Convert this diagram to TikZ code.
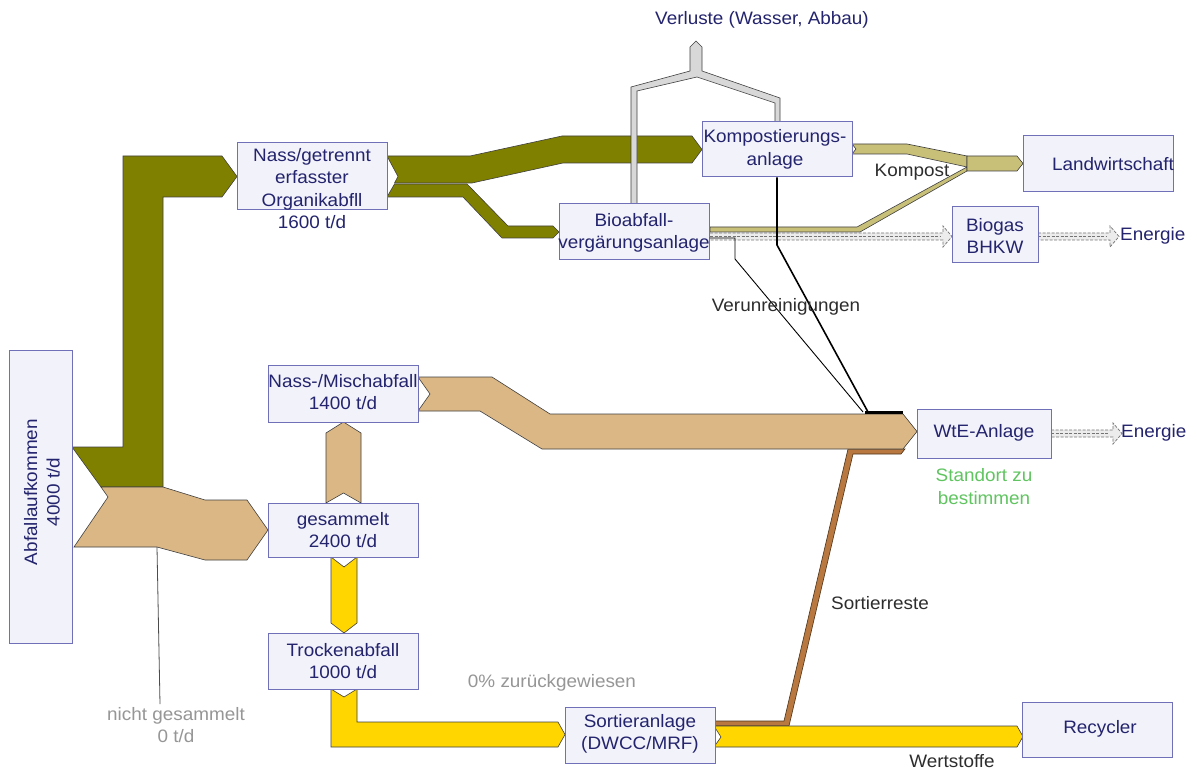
\documentclass[tikz,border=0pt]{standalone}
\usepackage{fontspec}
\setmainfont{Liberation Sans}[FakeStretch=1.05]
\definecolor{olv}{RGB}{128,128,0}
\definecolor{tanc}{RGB}{219,183,133}
\definecolor{ylw}{RGB}{255,214,0}
\definecolor{khk}{RGB}{200,192,120}
\definecolor{lgr}{RGB}{216,216,216}
\definecolor{brn}{RGB}{184,120,64}
\definecolor{boxf}{RGB}{242,242,250}
\definecolor{boxb}{RGB}{112,112,184}
\definecolor{navytxt}{RGB}{36,36,110}
\definecolor{grn}{RGB}{96,196,96}
\definecolor{gtxt}{RGB}{150,150,150}
\definecolor{dtxt}{RGB}{45,45,45}
\newcommand\fsz{\fontsize{18}{22.5}\selectfont}
\begin{document}
\begin{tikzpicture}[x=1pt,y=-1pt,
  flow/.style={draw=black!75, line width=0.6pt, line join=miter},
  eflow/.style={draw=gray!90!black, fill=gray!15, line width=0.7pt, dash pattern=on 3pt off 1.5pt},
  box/.style={draw=boxb, fill=boxf, line width=1pt, inner sep=0pt},
  lbl/.style={text=navytxt, align=center, font=\fsz, inner sep=0pt},
  note/.style={text=dtxt, align=center, font=\fsz, inner sep=0pt}]
\useasboundingbox (0,0) rectangle (1197,770);
\fill[white] (0,0) rectangle (1197,770);

% ---------- olive flows ----------
\draw[flow, fill=olv] (72,447) -- (123,447) -- (123,156) -- (222,156) -- (237,176.5) -- (222,197) -- (163,197) -- (163,487) -- (101,487) -- cycle;
\draw[flow, fill=olv] (387,156) -- (470,156) -- (562,136) -- (692,136) -- (702,149.5) -- (692,163) -- (563,163) -- (472,183) -- (394.5,183) -- (398,176.5) -- cycle;
\draw[flow, fill=olv] (394.5,184) -- (467,184) -- (508,226) -- (553,226) -- (559,232) -- (553,238) -- (502,238) -- (463,197) -- (387,197) -- cycle;

% ---------- tan flows ----------
\draw[flow, fill=tanc] (101,487) -- (163,487) -- (205,500) -- (247,500) -- (268,530) -- (247,560) -- (205,560) -- (157,547) -- (74,547) -- (108,497) -- cycle;
\draw[flow, fill=tanc] (326,503) -- (343.5,493) -- (361,503) -- (361,433) -- (343.5,422) -- (326,433) -- cycle;

% ---------- brown Sortierreste ----------
\draw[flow, fill=brn, draw=black!60!brown] (714,721) -- (784,721) -- (848,449) -- (905,449) -- (901,454) -- (853,454) -- (789,726) -- (714,726) -- cycle;

\draw[flow, fill=tanc] (418,377) -- (492,377) -- (550,414) -- (903,414) -- (917,431.5) -- (903,449) -- (542,449) -- (480,411) -- (418,411) -- (430,394) -- cycle;

% ---------- yellow flows ----------
\draw[flow, fill=ylw] (331,557) -- (344,567) -- (357,557) -- (357,623) -- (344,633) -- (331,623) -- cycle;
\draw[flow, fill=ylw] (331,689) -- (344,697) -- (357,689) -- (357,722) -- (558,722) -- (565,734.5) -- (558,747) -- (331,747) -- cycle;
\draw[flow, fill=ylw] (714,726) -- (1017,726) -- (1023,736.5) -- (1017,747) -- (714,747) -- (721,737) -- cycle;

% ---------- compost ----------
\draw[flow, fill=khk] (852,144) -- (907,144) -- (967,156) -- (967,167) -- (907,154) -- (852,154) -- (856,149) -- cycle;
\draw[flow, fill=khk] (710,227) -- (857,227) -- (967,167) -- (967,171) -- (860,232) -- (710,232) -- cycle;
\draw[flow, fill=khk] (967,156) -- (1017,156) -- (1023,163.5) -- (1017,171) -- (967,171) -- cycle;

% ---------- losses ----------
\draw[flow, fill=lgr] (631,204) -- (631,87) -- (690,71) -- (690,47) -- (696,41) -- (702,47) -- (702,71) -- (780,98) -- (780,122) -- (775,122) -- (775,103) -- (697,77) -- (637,91) -- (637,204) -- cycle;

% ---------- energy arrows ----------
\draw[eflow] (710,233) -- (943,233) -- (943,226) -- (952,236.5) -- (943,247) -- (943,240) -- (710,240);
\draw[eflow] (710,236.5) -- (940,236.5);
\draw[eflow] (1038,233) -- (1110,233) -- (1110,226) -- (1119,236.5) -- (1110,247) -- (1110,240) -- (1038,240);
\draw[eflow] (1038,236.5) -- (1106,236.5);
\draw[eflow] (1051,430) -- (1113,430) -- (1113,423) -- (1122,433.5) -- (1113,444) -- (1113,437) -- (1051,437);
\draw[eflow] (1051,433.5) -- (1109,433.5);

% ---------- boxes ----------
\node[box, minimum width=63pt, minimum height=293pt] (abf) at (40.5,496.5) {};
\node[box, minimum width=150pt, minimum height=67pt] (nass) at (312,176.5) {};
\node[box, minimum width=150pt, minimum height=57pt] (misch) at (343,393.5) {};
\node[box, minimum width=150pt, minimum height=54pt] (ges) at (343,530) {};
\node[box, minimum width=150pt, minimum height=56pt] (trock) at (343,661) {};
\node[box, minimum width=150pt, minimum height=55pt] (komp) at (777,149.5) {};
\node[box, minimum width=150pt, minimum height=56pt] (bio) at (634,232) {};
\node[box, minimum width=150pt, minimum height=56pt] (land) at (1098,164) {};
\node[box, minimum width=86pt, minimum height=56pt] (bhkw) at (995,235) {};
\node[box, minimum width=134pt, minimum height=49pt] (wte) at (984,433.5) {};
\node[box, minimum width=150pt, minimum height=56pt] (sort) at (640,735) {};
\node[box, minimum width=150pt, minimum height=55pt] (recy) at (1097,729.5) {};

% ---------- contamination lines ----------
\draw[line width=1.6pt] (komp.south) -- (777,245) -- (868,412);
\draw[line width=0.9pt] (bio.east |- 0,238) -- (735,238) -- (735,259) -- (863,412);
\fill[black] (865,410.5) rectangle (903,414);

% ---------- texts ----------
\node[lbl, rotate=90] (abfT) at (42,492) {Abfallaufkommen\\4000 t/d};
\node[lbl] (nassT) at (312,188.5) {Nass/getrennt\\erfasster\\Organikabfll\\1600 t/d};
\node[lbl] (mischT) at (343,392) {Nass-/Mischabfall\\1400 t/d};
\node[lbl] (gesT) at (ges) {gesammelt\\2400 t/d};
\node[lbl] (trockT) at (trock) {Trockenabfall\\1000 t/d};
\node[lbl] (kompT) at (775,149.5) {Kompostierungs-\\anlage};
\node[lbl] (bioT) at (634,233) {Bioabfall-\\vergärungsanlage};
\node[lbl] (landT) at (1113,164) {Landwirtschaft};
\node[lbl] (bhkwT) at (995,236) {Biogas\\BHKW};
\node[lbl] (wteT) at (984,433) {WtE-Anlage};
\node[lbl] (sortT) at (640,734) {Sortieranlage\\(DWCC/MRF)};
\node[lbl] (recyT) at (1100,729) {Recycler};
\node[lbl] (verl) at (762,20) {Verluste (Wasser, Abbau)};
\node[lbl, anchor=west] (en1) at (1120,236) {Energie};
\node[lbl, anchor=west] (en2) at (1121,433) {Energie};
\node[note] (kompost) at (912,172) {Kompost};
\node[note] (verun) at (786,307) {Verunreinigungen};
\node[note] (sortr) at (880,603) {Sortierreste};
\node[note] (wert) at (952,761) {Wertstoffe};
\node[note, text=gtxt] (zur) at (552,683) {0\% zurückgewiesen};
\node[note, text=grn] (stand) at (984,486.5) {Standort zu\\bestimmen};
\node[note, text=gtxt, anchor=north] (ng) at (176,707) {nicht gesammelt\\0 t/d};
\draw[gray!60!black, line width=0.8pt] (157,547) -- (160,704);
\end{tikzpicture}
\end{document}
